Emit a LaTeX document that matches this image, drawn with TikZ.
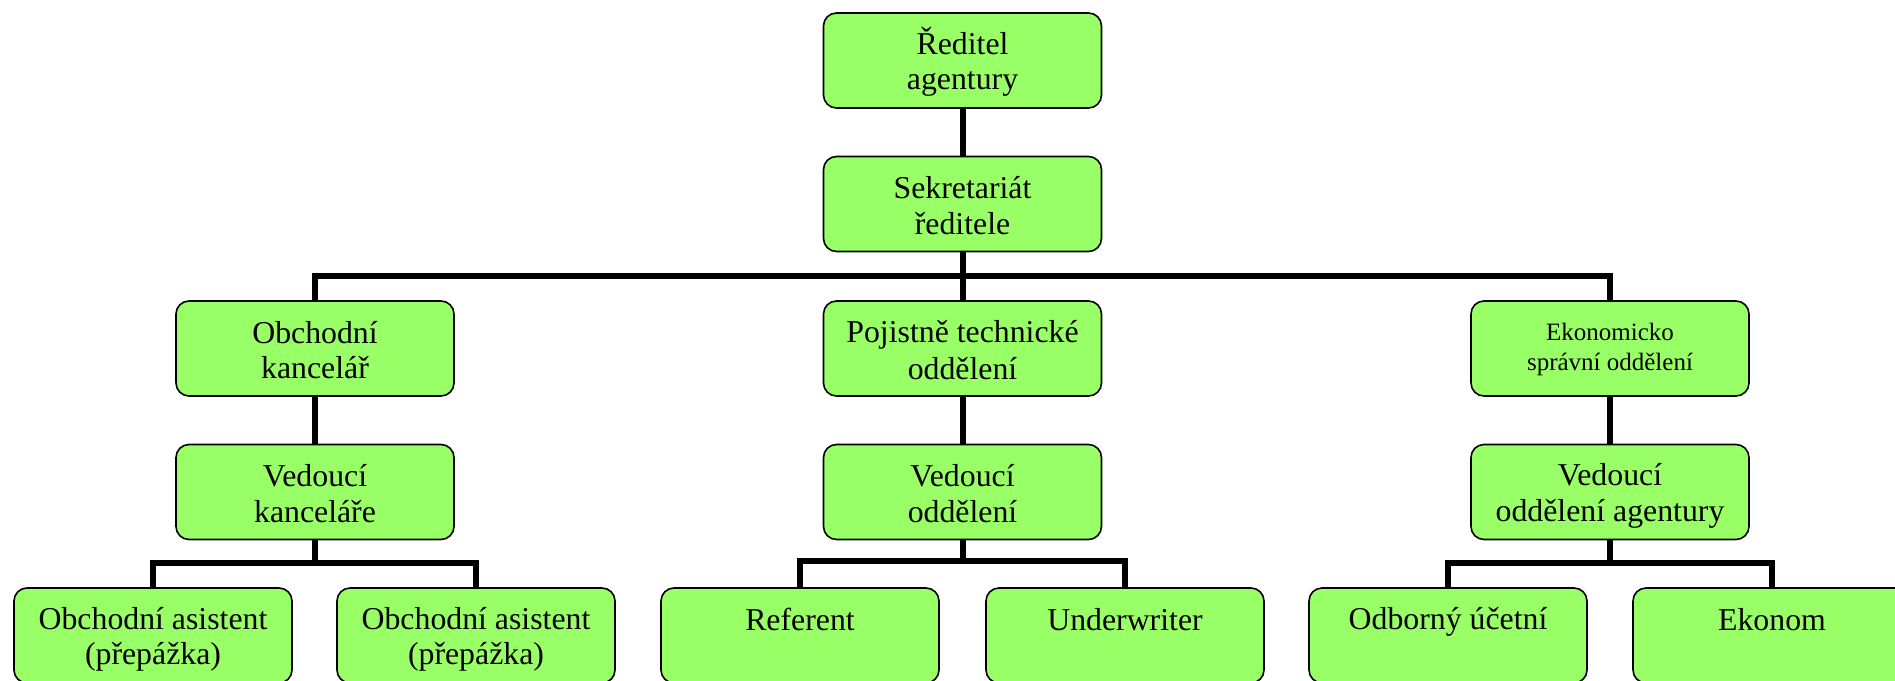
\documentclass[tikz,border=0pt]{standalone}
\usepackage{fontspec}
\setmainfont{Liberation Serif}
\definecolor{boxgreen}{HTML}{99FF66}
% struts that fix the line positions inside every box
\newcommand\bigstrut{\rule[-5pt]{0pt}{35pt}}
\newcommand\smallstrut{\rule[-8pt]{0pt}{29pt}}
\begin{document}
\begin{tikzpicture}[x=1pt,y=-1pt,
  unit/.style={draw=black, line width=1.6pt, fill=boxgreen, rounded corners=13pt,
    minimum width=278pt, minimum height=95pt, inner sep=0pt, align=center,
    font=\fontsize{31.8}{35.7}\selectfont},
  smallunit/.style={unit, font=\fontsize{25}{30}\selectfont},
  link/.style={line width=6pt, line join=miter, line cap=butt}]
\useasboundingbox (0,0) rectangle (1895,680);

% management
\node[unit] (red) at (962.5,60.5) {\bigstrut Ředitel\\\bigstrut agentury};
\node[unit] (sek) at (962.5,204) {\bigstrut Sekretariát\\\bigstrut ředitele};

% departments
\node[unit] (obk) at (315,348.5) {\bigstrut Obchodní\\\bigstrut kancelář};
\node[unit] (pto) at (962.5,348.5) {\bigstrut Pojistně technické\\\bigstrut oddělení};
\node[smallunit] (eso) at (1610,348.5) {\smallstrut Ekonomicko\\\smallstrut správní oddělení};

% heads of departments
\node[unit] (vka) at (315,492) {\bigstrut Vedoucí\\\bigstrut kanceláře};
\node[unit] (vod) at (962.5,492) {\bigstrut Vedoucí\\\bigstrut oddělení};
\node[unit] (voa) at (1610,492) {\bigstrut Vedoucí\\\bigstrut oddělení agentury};

% staff
\node[unit] (oa1) at (153,635.5) {\bigstrut Obchodní asistent\\\bigstrut (přepážka)};
\node[unit] (oa2) at (476,635.5) {\bigstrut Obchodní asistent\\\bigstrut (přepážka)};
\node[unit] (ref) at (800,635.5) {\bigstrut Referent\\\bigstrut};
\node[unit] (und) at (1125,635.5) {\bigstrut Underwriter\\\bigstrut};
\node[unit] (uce) at (1448,635.5) {\bigstrut Odborný účetní\\\bigstrut};
\node[unit] (eko) at (1772,635.5) {\bigstrut Ekonom\\\bigstrut};

% junction points of the buses
\coordinate (busA) at (962.5,276);
\coordinate (busL) at (315,563);
\coordinate (busM) at (962.5,561);
\coordinate (busR) at (1610,563);

% connectors
\draw[link] (red.south) -- (sek.north);
\draw[link] (sek.south) -- (busA);
\draw[link] (obk.north) |- (busA) -| (eso.north);
\draw[link] (busA) -- (pto.north);

\draw[link] (obk.south) -- (vka.north);
\draw[link] (pto.south) -- (vod.north);
\draw[link] (eso.south) -- (voa.north);

\draw[link] (vka.south) -- (busL);
\draw[link] (oa1.north) |- (busL) -| (oa2.north);
\draw[link] (vod.south) -- (busM);
\draw[link] (ref.north) |- (busM) -| (und.north);
\draw[link] (voa.south) -- (busR);
\draw[link] (uce.north) |- (busR) -| (eko.north);
\end{tikzpicture}
\end{document}
